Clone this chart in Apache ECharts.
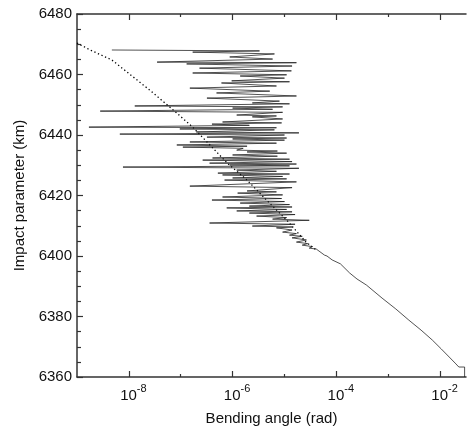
<!DOCTYPE html>
<html>
<head>
<meta charset="utf-8">
<script src="https://cdn.jsdelivr.net/npm/echarts@6/dist/echarts.min.js"></script>
<style>
html,body{margin:0;padding:0;background:#fff}
#chart{width:467px;height:433px}
</style>
</head>
<body>
<div id="chart"></div>
<script>
// model profile (dotted), hidden under the retrieved line below ~6402 km
var modelAngle = [1e-9, 1.8e-9, 4.7e-9, 2.5e-8, 7.6e-8, 1.7e-7, 4.0e-7, 7.9e-7, 1.9e-6, 4.5e-6, 1.1e-5, 2.6e-5,
    4.1e-5];
var modelImpact = [6470.4, 6468.1, 6464.8, 6454.9, 6447.9, 6442.6, 6436.0, 6430.7, 6425.1, 6418.5, 6411.9, 6404.6,
    6402.0];

// retrieved profile, noisy upper part (zigzag between small and large angles)
var zigAngle = [
    4.7e-9, 3.3e-6, 1.7e-7, 6.4e-6, 8.8e-7, 5.9e-6, 3.5e-8, 1.7e-5, 1.3e-7, 1.4e-5,
    2.3e-7, 1.36e-5, 1.7e-7, 1.1e-5, 1.4e-6, 1.0e-5, 9.6e-7, 1.25e-5, 6.1e-7, 7.0e-6,
    1.5e-7, 5.2e-6, 4.9e-7, 1.7e-5, 3.2e-7, 8.0e-6, 2.4e-6, 1.25e-5, 1.3e-8, 9.2e-6,
    1.0e-6, 5.9e-6, 2.8e-9, 9.2e-6, 1.2e-6, 7.0e-6, 2.4e-6, 9.2e-6, 6.4e-7, 8.8e-6,
    4.0e-7, 2.1e-6, 1.7e-9, 7.0e-6, 9.6e-8, 6.4e-6, 2.0e-7, 1.9e-5, 6.7e-9, 1.0e-5,
    3.2e-7, 1.1e-5, 1.0e-6, 1.0e-5, 1.5e-7, 7.0e-6, 8.4e-8, 1.9e-6, 1.1e-7, 1.6e-6,
    1.2e-6, 7.3e-6, 1.9e-6, 1.1e-5, 1.0e-6, 7.3e-6, 4.1e-7, 1.25e-5, 2.65e-7, 1.4e-5,
    3.6e-7, 1.7e-5, 8.8e-7, 1.25e-5, 7.7e-9, 1.9e-5, 1.2e-6, 7.0e-6, 5.2e-7, 1.25e-5,
    6.4e-7, 9.2e-6, 1.0e-6, 1.1e-5, 7.0e-7, 1.7e-5, 1.5e-7, 1.4e-5, 1.9e-6, 7.0e-6,
    1.25e-6, 9.2e-6, 6.4e-7, 8.8e-6, 4.0e-7, 1.0e-5, 1.4e-6, 1.25e-5, 2.1e-6, 1.4e-5,
    7.7e-7, 1.1e-5, 1.2e-6, 1.4e-5, 2.1e-6, 1.6e-5, 2.9e-6, 1.1e-5, 5.9e-6, 3.0e-5,
    3.6e-7, 1.6e-5, 2.4e-6, 1.4e-5, 7.0e-6, 1.4e-5, 9.2e-6, 1.7e-5, 1.25e-5, 2.2e-5,
    1.4e-5, 2.65e-5, 1.7e-5, 2.8e-5, 2.2e-5, 3.45e-5, 3.0e-5, 4.1e-5];
var zigImpact = [
    6468.1, 6467.8, 6467.4, 6466.8, 6465.8, 6465.1, 6464.1, 6463.9, 6463.5, 6462.8,
    6462.1, 6461.2, 6460.5, 6459.9, 6459.5, 6458.8, 6457.9, 6457.6, 6457.2, 6456.2,
    6455.5, 6454.5, 6453.9, 6452.9, 6452.2, 6451.2, 6450.6, 6450.3, 6449.6, 6449.3,
    6448.9, 6448.5, 6447.9, 6447.5, 6446.6, 6446.3, 6446.0, 6445.3, 6444.3, 6444.0,
    6443.6, 6443.2, 6442.6, 6442.4, 6442.0, 6441.7, 6441.0, 6440.7, 6440.3, 6440.0,
    6439.3, 6439.0, 6438.7, 6438.3, 6437.7, 6437.3, 6436.7, 6436.3, 6436.0, 6435.6,
    6435.0, 6434.7, 6434.4, 6434.0, 6433.4, 6433.0, 6432.4, 6432.0, 6431.7, 6431.2,
    6430.7, 6430.4, 6430.1, 6429.8, 6429.4, 6429.0, 6428.4, 6428.0, 6427.4, 6427.1,
    6426.8, 6426.3, 6425.8, 6425.5, 6425.1, 6424.5, 6423.1, 6422.6, 6421.5, 6421.2,
    6420.8, 6420.2, 6419.5, 6419.0, 6418.5, 6418.0, 6417.5, 6417.0, 6416.5, 6416.2,
    6415.9, 6415.4, 6414.9, 6414.6, 6414.2, 6413.7, 6413.2, 6412.7, 6412.2, 6411.8,
    6410.9, 6410.5, 6409.9, 6409.6, 6409.3, 6408.6, 6407.9, 6407.4, 6406.9, 6406.5,
    6406.0, 6405.3, 6404.6, 6404.1, 6403.6, 6403.1, 6402.6, 6402.3];

// retrieved profile, lower part
var tailAngle = [4.1e-5, 5.9e-5, 6.6e-5, 8.3e-5, 1.2e-4, 1.8e-4, 2.5e-4, 3.8e-4, 7.6e-4, 1.4e-3,
    2.5e-3, 4.3e-3, 7.1e-3, 1.05e-2, 1.5e-2, 1.95e-2, 2.3e-2, 2.97e-2, 2.97e-2];
var tailImpact = [6402.0, 6400.3, 6400.0, 6398.7, 6397.4, 6394.4, 6392.4, 6390.4, 6386.1, 6382.5,
    6378.8, 6375.5, 6372.2, 6369.3, 6366.6, 6364.6, 6363.3, 6363.3, 6360.0];

var xMajorTicks = [1e-8, 1e-6, 1e-4, 1e-2];
var xMinorTicks = [1e-7, 1e-5, 1e-3];

var font = '"Liberation Sans", Arial, sans-serif';
var axisColor = '#333';
var textColor = '#111';

var modelData = modelAngle.map(function (a, i) { return [a, modelImpact[i]]; });
var retrData = zigAngle.map(function (a, i) { return [a, zigImpact[i]]; });
tailAngle.forEach(function (a, i) { retrData.push([a, tailImpact[i]]); });

function xAxisOf(pos, ticks, len, main) {
    return {
        type: 'log',
        logBase: 10,
        min: 1e-9,
        max: 0.0316,
        position: pos,
        name: main && pos === 'bottom' ? 'Bending angle (rad)' : '',
        nameLocation: 'middle',
        nameGap: 34,
        nameTextStyle: { fontSize: 15, color: textColor, fontFamily: font },
        axisLine: { show: main, onZero: false, lineStyle: { color: axisColor, width: 1.5 } },
        axisTick: { show: true, inside: true, length: len, customValues: ticks, lineStyle: { color: axisColor, width: 1.2 } },
        minorTick: { show: false },
        splitLine: { show: false },
        axisLabel: {
            show: main && pos === 'bottom',
            customValues: ticks,
            margin: 6,
            formatter: function (v) {
                return '{b|10}{s|' + Math.round(Math.log10(v)) + '}';
            },
            rich: {
                b: { fontSize: 15, fontFamily: font, color: textColor, lineHeight: 20, verticalAlign: 'bottom', padding: [0, 0, 0, 9] },
                s: { fontSize: 11, fontFamily: font, color: textColor, lineHeight: 12, verticalAlign: 'top' }
            }
        }
    };
}

var myChart = echarts.init(document.getElementById('chart'));
myChart.setOption({
    animation: false,
    backgroundColor: '#fff',
    grid: { left: 77, right: 1, top: 14, bottom: 56 },
    xAxis: [
        xAxisOf('bottom', xMajorTicks, 6, true),
        xAxisOf('bottom', xMinorTicks, 3, false),
        xAxisOf('top', xMajorTicks, 6, true),
        xAxisOf('top', xMinorTicks, 3, false)
    ],
    yAxis: {
        type: 'value',
        min: 6360,
        max: 6480,
        interval: 20,
        name: 'Impact parameter (km)',
        nameLocation: 'middle',
        nameGap: 49,
        nameTextStyle: { fontSize: 15, color: textColor, fontFamily: font },
        axisLine: { show: true, lineStyle: { color: axisColor, width: 1.5 } },
        axisTick: { inside: true, length: 6, lineStyle: { color: axisColor, width: 1.2 } },
        minorTick: { show: true, splitNumber: 4, length: 4, lineStyle: { color: axisColor, width: 1.2 } },
        splitLine: { show: false },
        axisLabel: {
            fontSize: 15, color: textColor, fontFamily: font, margin: 5,
            formatter: function (v) { return String(v); }
        }
    },
    series: [
        {
            name: 'model',
            type: 'line',
            xAxisIndex: 0,
            data: modelData,
            showSymbol: false,
            lineStyle: { color: '#000', width: 1.3, type: [1.3, 2.6] },
            z: 2
        },
        {
            name: 'retrieved',
            type: 'line',
            xAxisIndex: 0,
            data: retrData,
            showSymbol: false,
            lineStyle: { color: '#1a1a1a', width: 0.75 },
            z: 3
        }
    ]
});
</script>
</body>
</html>
